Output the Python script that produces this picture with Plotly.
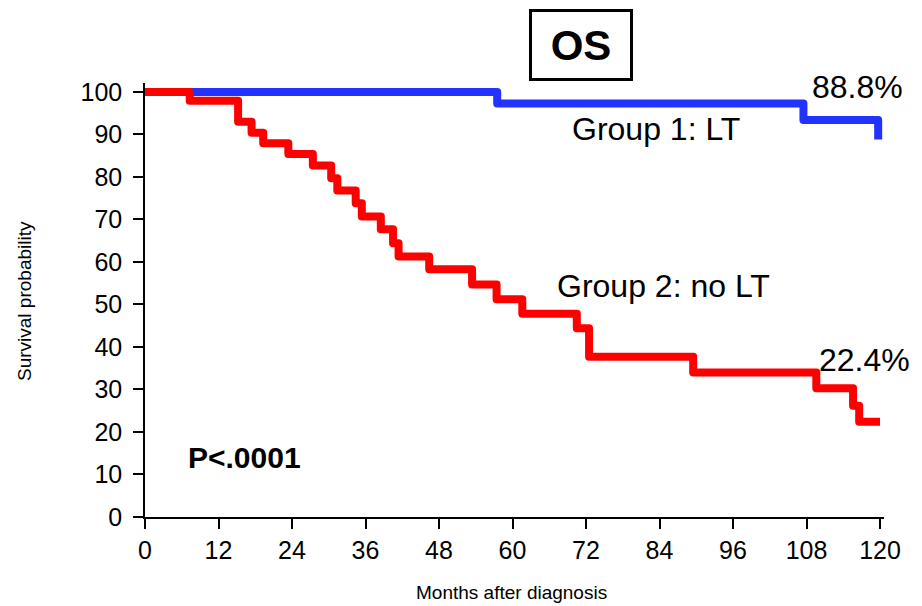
import plotly.graph_objects as go

# Kaplan-Meier overall survival, months after diagnosis
lt_months = [0, 57.5, 107.5, 119.7]
lt_surv = [100, 97.3, 93.4, 88.8]

nolt_months = [0, 7.3, 15.2, 17.4, 19.3, 23.4, 27.4, 30.4, 31.4, 34.4, 35.4,
               38.5, 40.5, 41.4, 46.4, 53.4, 57.4, 61.6, 70.5, 72.5, 89.5,
               109.6, 115.6, 116.6, 120]
nolt_surv = [100, 97.9, 93.0, 90.4, 87.9, 85.4, 82.7, 79.7, 76.8, 73.8, 70.7,
             67.7, 64.4, 61.3, 58.3, 54.7, 51.2, 47.8, 44.4, 37.7, 34.0,
             30.3, 26.2, 22.4, 22.4]

x_ticks = [0, 12, 24, 36, 48, 60, 72, 84, 96, 108, 120]
y_ticks = [0, 10, 20, 30, 40, 50, 60, 70, 80, 90, 100]

FONT = "Liberation Sans, Arial, sans-serif"
BLUE = "#2233FF"
RED = "#FF0000"

fig = go.Figure()
fig.add_trace(go.Scatter(x=lt_months, y=lt_surv, mode="lines",
                         line=dict(shape="hv", color=BLUE, width=8),
                         name="Group 1: LT"))
fig.add_trace(go.Scatter(x=nolt_months, y=nolt_surv, mode="lines",
                         line=dict(shape="hv", color=RED, width=8),
                         name="Group 2: no LT"))

axis_common = dict(showgrid=False, zeroline=False, showline=True,
                   linecolor="black", linewidth=1.5, ticks="outside",
                   ticklen=10, tickwidth=1.5, tickcolor="black",
                   tickfont=dict(family=FONT, size=25, color="black"))

fig.update_xaxes(range=[0, 120.65], tickvals=x_ticks, **axis_common)
fig.update_yaxes(range=[0, 102.1], tickvals=y_ticks, ticklabelstandoff=6,
                 **axis_common)

lt_end = lt_surv[-1]
nolt_end = nolt_surv[-1]

# text labels positioned in pixel space (x from left, y from top)
annotations = [
    dict(x=857.5, y=86.5, text=f"{lt_end:.1f}%",
         font=dict(family=FONT, size=32, color="black")),
    dict(x=655.5, y=128.5, text="Group 1: LT",
         font=dict(family=FONT, size=32, color="black")),
    dict(x=663, y=286, text="Group 2: no LT",
         font=dict(family=FONT, size=32, color="black")),
    dict(x=864, y=359.5, text=f"{nolt_end:.1f}%",
         font=dict(family=FONT, size=32, color="black")),
    dict(x=244, y=457.5, text="<b>P<.0001</b>",
         font=dict(family=FONT, size=30, color="black")),
    dict(x=580.5, y=45, text="<b>OS</b>",
         font=dict(family=FONT, size=42, color="black"),
         bordercolor="black", borderwidth=3, borderpad=2,
         width=94, height=62),
    dict(x=24, y=301, text="Survival probability", textangle=-90,
         font=dict(family=FONT, size=19, color="black")),
    dict(x=511, y=592, text="Months after diagnosis",
         font=dict(family=FONT, size=19, color="black")),
]

L, R, T, B = 145, 38, 83, 89
W, H = 922, 606
for a in annotations:
    a["x"] = (a["x"] - L) / (W - L - R)
    a["y"] = (H - B - a["y"]) / (H - T - B)
    a.update(xref="paper", yref="paper", showarrow=False,
             xanchor="center", yanchor="middle")

fig.update_layout(
    width=W, height=H,
    margin=dict(l=L, r=R, t=T, b=B, pad=0, autoexpand=False),
    paper_bgcolor="white", plot_bgcolor="white",
    showlegend=False,
    annotations=annotations,
    font=dict(family=FONT, color="black"),
)

fig.write_html(
    "out.html",
    config={"displayModeBar": False},
    post_script="document.querySelectorAll('.scatterlayer path.js-line')"
                ".forEach(function(p){p.style.strokeLinejoin='round';});",
)
